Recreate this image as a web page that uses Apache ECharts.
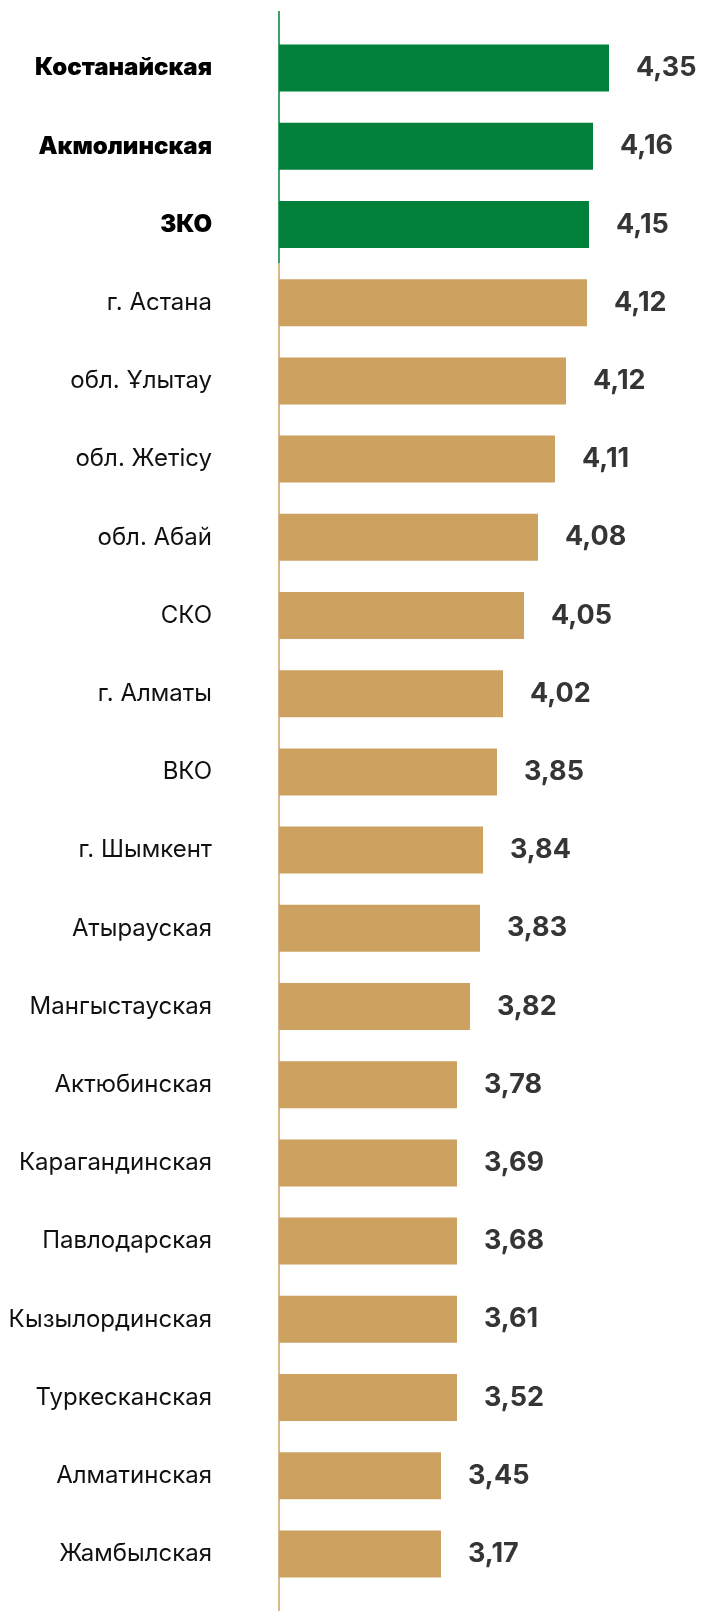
<!DOCTYPE html>
<html>
<head>
<meta charset="utf-8">
<script src="https://cdn.jsdelivr.net/npm/echarts@6/dist/echarts.min.js"></script>
<style>
html,body{margin:0;padding:0;background:#fff;}
#chart{width:705px;height:1611px;}
</style>
</head>
<body>
<div id="chart"></div>
<script>
const categories = ["Костанайская","Акмолинская","ЗКО","г. Астана","обл. Ұлытау","обл. Жетісу","обл. Абай","СКО","г. Алматы","ВКО","г. Шымкент","Атырауская","Мангыстауская","Актюбинская","Карагандинская","Павлодарская","Кызылординская","Туркесканская","Алматинская","Жамбылская"];
// Printed values (labels)
const values = [4.35,4.16,4.15,4.12,4.12,4.11,4.08,4.05,4.02,3.85,3.84,3.83,3.82,3.78,3.69,3.68,3.61,3.52,3.45,3.17];
// Bar lengths as drawn in the reference (arbitrary drawing units)
const barLengths = [330,314,310,308,287,276,259,245,224,218,204,201,191,178,178,178,178,178,162,162];
const highlighted = 3; // first N categories highlighted

const GREEN = '#00803b';
const TAN = '#cda261';

const chart = echarts.init(document.getElementById('chart'), null, {renderer:'canvas'});

const option = {
  animation: false,
  backgroundColor: '#ffffff',
  grid: {left: 279, right: 26, top: 29, bottom: 18, containLabel: false},
  xAxis: {
    type: 'value', min: 0, max: 400,
    show: false
  },
  yAxis: {
    type: 'category', data: categories, inverse: true,
    axisLine: {show: false}, axisTick: {show: false}, splitLine: {show: false},
    axisLabel: {
      margin: 67,
      formatter: (v, i) => i < highlighted ? '{b|' + v + '}' : '{n|' + v + '}',
      rich: {
        b: {fontFamily: 'Inter, Roboto, sans-serif', fontSize: 24, fontWeight: 900, color: '#000'},
        n: {fontFamily: 'Inter, Roboto, sans-serif', fontSize: 24, fontWeight: 400, color: '#111'}
      }
    }
  },
  series: [{
    type: 'bar',
    barWidth: 47,
    data: barLengths.map((v, i) => ({
      value: v,
      itemStyle: {color: i < highlighted ? GREEN : TAN}
    })),
    label: {
      show: true, position: 'right', distance: 27,
      formatter: p => values[p.dataIndex].toFixed(2).replace('.', ','),
      fontFamily: 'Inter, Roboto, sans-serif', fontSize: 27, fontWeight: 'bold', color: '#353535'
    }
  }]
};
chart.setOption(option);

// Axis line: green alongside highlighted group, tan below
const x0 = chart.convertToPixel({xAxisIndex: 0}, 0);
const yA = chart.convertToPixel({yAxisIndex: 0}, categories[highlighted - 1]);
const yB = chart.convertToPixel({yAxisIndex: 0}, categories[highlighted]);
const yBoundary = (yA + yB) / 2;
chart.setOption({
  graphic: [
    {type: 'line', z: 10, shape: {x1: x0, y1: 11, x2: x0, y2: yBoundary}, style: {stroke: GREEN, lineWidth: 1.5}},
    {type: 'line', z: 10, shape: {x1: x0, y1: yBoundary, x2: x0, y2: 1611}, style: {stroke: TAN, lineWidth: 1.5}}
  ]
});
</script>
</body>
</html>
